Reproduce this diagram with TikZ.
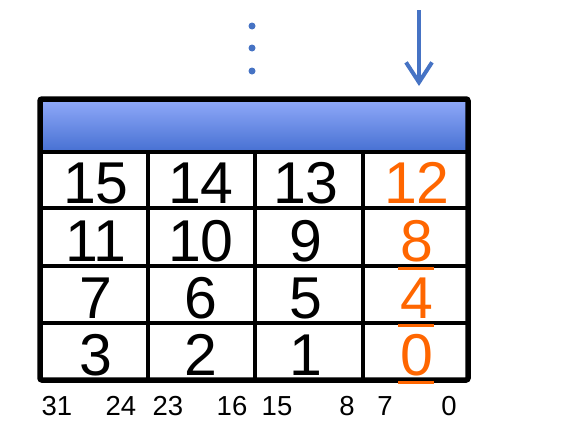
\documentclass[tikz,border=0pt]{standalone}
\usepackage{fontspec}
\setmainfont{Liberation Sans}
\usetikzlibrary{arrows.meta}
\definecolor{hdtop}{RGB}{145,170,250}
\definecolor{hdbot}{RGB}{70,112,210}
\definecolor{arrowblue}{RGB}{70,115,196}
\definecolor{orng}{RGB}{255,102,0}
\begin{document}
\begin{tikzpicture}[x=1pt,y=-1pt,
  cellnum/.style={font=\fontsize{59}{59}\selectfont, anchor=base, inner sep=0pt},
  bitlbl/.style={font=\fontsize{27.5}{27.5}\selectfont, anchor=base, inner sep=0pt},
  grid/.style={line width=4.5pt, black},
  ubar/.style={line width=3pt, orng}]
\useasboundingbox (0,0) rectangle (577,434);
% header
\shade[top color=hdtop, bottom color=hdbot] (40,99) rectangle (468,152);
% grid
\draw[grid] (40,152) -- (468,152);
\draw[grid] (40,208) -- (468,208);
\draw[grid] (40,266) -- (468,266);
\draw[grid] (40,323) -- (468,323);
\draw[grid] (148,152) -- (148,380);
\draw[grid] (255,152) -- (255,380);
\draw[grid] (363,152) -- (363,380);
\draw[line width=5.5pt, rounded corners=2pt] (40,99) rectangle (468,380);
% cell numbers
\node[cellnum] (n15) at (96,203) {15};
\node[cellnum] (n14) at (201,203) {14};
\node[cellnum] (n13) at (306,203) {13};
\node[cellnum, text=orng] (n12) at (417,203) {12};
\node[cellnum] (n11) at (96,261) {11};
\node[cellnum] (n10) at (201,261) {10};
\node[cellnum] (n9) at (306,261) {9};
\node[cellnum, text=orng] (n8) at (417,261) {8};
\node[cellnum] (n7) at (96,318) {7};
\node[cellnum] (n6) at (201,318) {6};
\node[cellnum] (n5) at (306,318) {5};
\node[cellnum, text=orng] (n4) at (417,318) {4};
\node[cellnum] (n3) at (96,375) {3};
\node[cellnum] (n2) at (201,375) {2};
\node[cellnum] (n1) at (306,375) {1};
\node[cellnum, text=orng] (n0) at (417,375) {0};
% orange underlines
\draw[ubar] (398,268.5) -- (434,268.5);
\draw[ubar] (398,325.5) -- (434,325.5);
\draw[ubar] (398,382) -- (434,382);
% bit labels
\node[bitlbl] (b31) at (57,415) {31};
\node[bitlbl] (b24) at (121,415) {24};
\node[bitlbl] (b23) at (168,415) {23};
\node[bitlbl] (b16) at (232,415) {16};
\node[bitlbl] (b15) at (277,415) {15};
\node[bitlbl] (b8) at (347,415) {8};
\node[bitlbl] (b7) at (385,415) {7};
\node[bitlbl] (b0) at (449,415) {0};
% dots
\fill[arrowblue] (252,26) circle (3.5);
\fill[arrowblue] (252,48) circle (3.5);
\fill[arrowblue] (252,71) circle (3.5);
% arrow
\coordinate (atop) at (419,10);
\coordinate (abot) at (419,86);
\draw[arrowblue, line width=4pt, -{Straight Barb[length=20pt,width=26pt,line width=4pt]}] (atop) -- (abot);
\end{tikzpicture}
\end{document}
